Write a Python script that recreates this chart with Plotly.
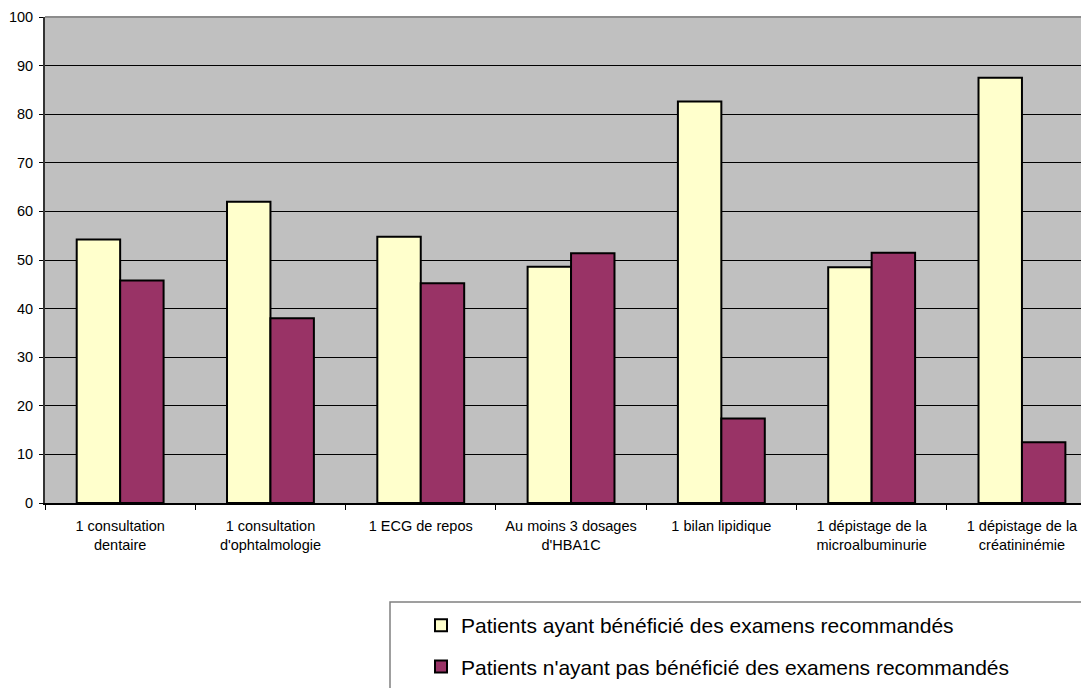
import plotly.graph_objects as go

categories = [
    "1 consultation<br>dentaire",
    "1 consultation<br>d'ophtalmologie",
    "1 ECG de repos",
    "Au moins 3 dosages<br>d'HBA1C",
    "1 bilan lipidique",
    "1 dépistage de la<br>microalbuminurie",
    "1 dépistage de la<br>créatininémie",
]
beneficie = [54.2, 62.0, 54.8, 48.6, 82.6, 48.5, 87.5]
non_beneficie = [45.8, 38.0, 45.2, 51.4, 17.4, 51.5, 12.5]
y_ticks = [0, 10, 20, 30, 40, 50, 60, 70, 80, 90, 100]

FONT = "Liberation Sans, Arial, sans-serif"
OFF = 8  # page body margin
W, H = 1089 - OFF, 688 - OFF
L, T = 45 - OFF, 17 - OFF
R, B = 0, H - (503 - OFF)
PW, PH = W - L - R, H - T - B
CAT_PX = 150.3  # pixel width of one category in the reference


def sx(px):
    """screen x pixel -> paper x"""
    return (px - OFF - L) / PW


def sy(py):
    """screen y pixel -> paper y"""
    return (H - B - (py - OFF)) / PH


fig = go.Figure()
fig.add_trace(go.Bar(
    x=categories, y=beneficie,
    name="Patients ayant bénéficié des examens recommandés",
    marker=dict(color="#FFFFCC", line=dict(color="black", width=2)),
    legendgroup="a",
))
fig.add_trace(go.Bar(
    x=categories, y=non_beneficie,
    name="Patients n'ayant pas bénéficié des examens recommandés",
    marker=dict(color="#993366", line=dict(color="black", width=2)),
    legendgroup="b",
))

fig.update_layout(
    width=W, height=H,
    margin=dict(l=L, r=R, t=T, b=B, autoexpand=False),
    paper_bgcolor="white",
    plot_bgcolor="#C0C0C0",
    barmode="group",
    bargap=0.422,
    bargroupgap=0,
    showlegend=True,
    font=dict(family=FONT, size=14.5, color="black"),
    legend=dict(
        x=sx(421), y=sy(605), xanchor="left", yanchor="top",
        bgcolor="rgba(0,0,0,0)", borderwidth=0,
        font=dict(family=FONT, size=21, color="black"),
        traceorder="grouped", tracegroupgap=11,
        itemwidth=30,
    ),
    shapes=[
        # legend box
        dict(type="rect", xref="paper", yref="paper",
             x0=sx(390), x1=sx(1100),
             y0=sy(700), y1=sy(602),
             line=dict(color="#808080", width=1.5), fillcolor="rgba(0,0,0,0)"),
        # plot area top border
        dict(type="line", xref="paper", yref="paper", x0=0, x1=1, y0=1, y1=1,
             line=dict(color="#8c8c8c", width=2)),
    ],
)

fig.update_xaxes(
    range=[-0.5, -0.5 + PW / CAT_PX],
    showgrid=False,
    showline=True, linecolor="black", linewidth=1.5,
    ticks="outside", ticklen=5, tickcolor="black",
    tickson="boundaries",
    ticklabelstandoff=9,
    tickfont=dict(family=FONT, size=14.5, color="black"),
)
fig.update_yaxes(
    range=[0, 100],
    tickvals=y_ticks,
    showgrid=True, gridcolor="black", gridwidth=1,
    showline=True, linecolor="#333333", linewidth=2,
    ticks="outside", ticklen=4, tickcolor="black",
    ticklabelstandoff=3,
    zeroline=False,
    tickfont=dict(family=FONT, size=14.5, color="black"),
)

fig.write_html("out.html")
